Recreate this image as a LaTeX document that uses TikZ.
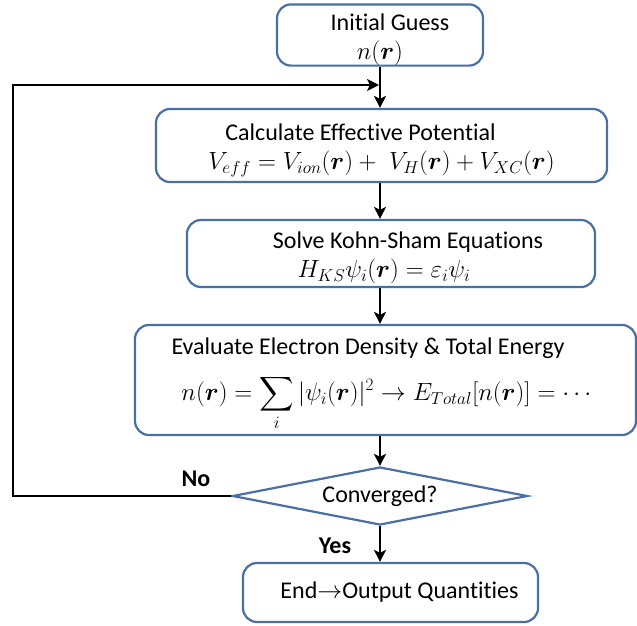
\documentclass[tikz,border=0pt]{standalone}
\usepackage{amsmath,amssymb}
\usepackage{fontspec}
\setmainfont{Carlito}[Ligatures=NoCommon]
\usetikzlibrary{arrows.meta,shapes.geometric,positioning}
\definecolor{boxblue}{HTML}{4A6FA5}
\tikzset{
    box/.style={rectangle, rounded corners=14pt, draw=boxblue, line width=2.2pt,
        fill=white, inner sep=0pt, align=center,
        font=\fontsize{24}{29}\selectfont},
    decide/.style={diamond, aspect=5.1, draw=boxblue, line width=2.2pt, fill=white,
        inner sep=0pt, font=\fontsize{24}{29}\selectfont},
    arrow/.style={-{Stealth[length=12pt,width=12pt,inset=3pt]}, line width=2.2pt},
    lbl/.style={font=\bfseries\fontsize{24}{29}\selectfont}
}
\newcommand{\rv}{\boldsymbol{r}}
\newcommand{\topstrut}{\rule{0pt}{26pt}}

\begin{document}
\begin{tikzpicture}[x=1pt,y=-1pt]
    \useasboundingbox (0,0) rectangle (637,625);
    \node[box, minimum width=206pt, minimum height=60pt] (guess) at (380,35)
        {\topstrut\hspace*{20pt}Initial Guess\\ $n(\rv)$};
    \node[box, minimum width=451pt, minimum height=73pt] (veff) at (381.5,145.5)
        {\topstrut\hspace*{-42pt}Calculate Effective Potential\\
         $V_{eff} = V_{ion}(\rv) +\; V_H(\rv) + V_{XC}(\rv)$};
    \node[box, minimum width=408pt, minimum height=67pt] (ks) at (391,253.5)
        {\topstrut\hspace*{34pt}Solve Kohn-Sham Equations\\
         \hspace*{-14pt}$H_{KS}\psi_i(\rv) = \varepsilon_i\psi_i$};
    \node[box, minimum width=501pt, minimum height=110pt] (dens) at (385.5,380)
        {\topstrut\hspace*{-35pt}Evaluate Electron Density \& Total Energy\\[15pt]
         \hspace*{6pt}$\displaystyle n(\rv) = \sum_i |\psi_i(\rv)|^2 \rightarrow E_{Total}[n(\rv)] = \cdots$};
    \node[decide, minimum width=295pt, minimum height=58pt] (conv) at (380,496)
        {Converged?};
    \node[box, minimum width=295pt, minimum height=59pt] (stop) at (390.5,592.5)
        {\hspace*{18pt}End$\rightarrow$Output Quantities};
    \coordinate (back) at (13,496);
    \coordinate (join) at (379,85);
    \path (guess.south) edge [arrow] (veff.north -| guess.south)
        (veff.south -| guess) edge [arrow] (ks.north -| guess)
        (ks.south -| guess) edge [arrow] (dens.north -| guess)
        (dens.south -| guess) edge [arrow] (conv.north)
        (conv.south) edge [arrow] (stop.north -| conv);
    \draw[arrow] (conv.west) -- (back) |- (join);
    \node[lbl] at (196,479) {No};
    \node[lbl] at (335,546) {Yes};
\end{tikzpicture}
\end{document}
